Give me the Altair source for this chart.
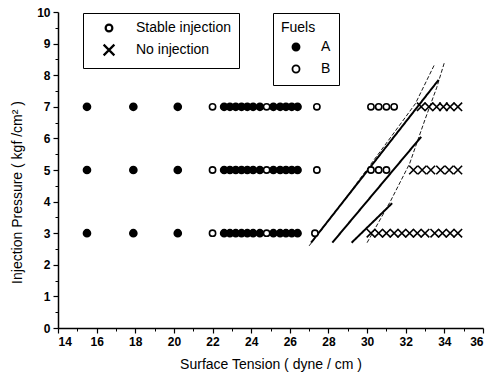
import altair as alt
import pandas as pd

# ---- data ----
pressures = [3, 5, 7]

# Fuel A, stable injection (filled circles), same at every pressure
fuel_a_x = [15.5, 17.9, 20.2, 22.6, 22.9, 23.2, 23.5, 23.8, 24.1, 24.45,
            25.15, 25.5, 25.8, 26.1, 26.4]

# Fuel B, stable injection (open circles)
fuel_b_stable_p3 = [22.0, 24.8, 27.3]
fuel_b_stable_p5 = [22.0, 24.8, 27.4, 30.2, 30.6, 31.0]
fuel_b_stable_p7 = [22.0, 24.8, 27.4, 30.2, 30.6, 31.0, 31.4]

# Fuel B, no injection (crosses)
fuel_b_none_p3 = [30.2, 30.6, 31.0, 31.4, 31.8, 32.2, 32.6, 33.0, 33.5, 33.9, 34.3, 34.7]
fuel_b_none_p5 = [32.4, 32.85, 33.3, 33.8, 34.25, 34.7]
fuel_b_none_p7 = [32.8, 33.2, 33.6, 33.95, 34.3, 34.7]

# boundary lines
line1_x = [27.1, 33.7]
line1_y = [2.7, 7.85]
line2_x = [28.2, 32.8]
line2_y = [2.7, 6.05]
line3_x = [29.2, 31.3]
line3_y = [2.7, 3.95]
dash1_x = [27.0, 29.0, 31.0, 32.5, 33.5]
dash1_y = [2.6, 4.2, 5.85, 7.1, 8.35]
dash2_x = [30.0, 31.2, 32.2, 33.0, 33.6, 34.0]
dash2_y = [2.7, 4.0, 5.2, 6.6, 7.6, 8.4]

x_major = [14, 16, 18, 20, 22, 24, 26, 28, 30, 32, 34, 36]
x_minor = [15, 17, 19, 21, 23, 25, 27, 29, 31, 33, 35]
y_major = [0, 1, 2, 3, 4, 5, 6, 7, 8, 9, 10]
y_minor = [0.5, 1.5, 2.5, 3.5, 4.5, 5.5, 6.5, 7.5, 8.5, 9.5]

# ---- build tables ----
recs = []
o = 0
for p in pressures:
    for xv in fuel_a_x:
        recs.append(dict(x=xv, y=p, fuel="A", status="Stable injection", kind="A", ord=o)); o += 1
for p, xs in zip(pressures, [fuel_b_stable_p3, fuel_b_stable_p5, fuel_b_stable_p7]):
    for xv in xs:
        recs.append(dict(x=xv, y=p, fuel="B", status="Stable injection", kind="Bs", ord=o)); o += 1
for p, xs in zip(pressures, [fuel_b_none_p3, fuel_b_none_p5, fuel_b_none_p7]):
    for xv in xs:
        recs.append(dict(x=xv, y=p, fuel="B", status="No injection", kind="Bn", ord=o)); o += 1
pts = pd.DataFrame(recs)

lrecs = []
for name, style, xs, ys in [("l1", "solid", line1_x, line1_y),
                            ("l2", "solid", line2_x, line2_y),
                            ("l3", "solid", line3_x, line3_y),
                            ("d1", "dashed", dash1_x, dash1_y),
                            ("d2", "dashed", dash2_x, dash2_y)]:
    for i, (xv, yv) in enumerate(zip(xs, ys)):
        lrecs.append(dict(x=xv, y=yv, id=name, style=style, i=i))
lines_df = pd.DataFrame(lrecs)

FONT = "Liberation Sans"
XPATH = "M-1.6,-1.6L1.6,1.6M1.6,-1.6L-1.6,1.6"

xscale = alt.Scale(domain=[14, 36], nice=False, zero=False)
yscale = alt.Scale(domain=[0, 10], nice=False)

x_axis = alt.Axis(values=x_major, tickSize=5, labelFont=FONT, labelFontSize=12,
                  labelFontWeight="bold", labelColor="black", domainColor="black",
                  tickColor="black", grid=False, labelPadding=3, domainWidth=1.5,
                  tickWidth=1.2, title="Surface Tension ( dyne / cm )",
                  titleFont=FONT, titleFontSize=14, titleFontWeight="normal",
                  titleColor="black", titlePadding=10, orient="bottom")
y_axis = alt.Axis(values=y_major, tickSize=5, labelFont=FONT, labelFontSize=12,
                  labelFontWeight="bold", labelColor="black", domainColor="black",
                  tickColor="black", grid=False, labelPadding=3, domainWidth=1.5,
                  tickWidth=1.2, title="Injection Pressure ( kgf /cm² )",
                  titleFont=FONT, titleFontSize=14, titleFontWeight="normal",
                  titleColor="black", titlePadding=12, titleY=180, orient="left")
x_axis_minor = alt.Axis(values=x_minor, tickSize=3, labels=False, domain=False,
                        grid=False, tickColor="black", title="", orient="bottom")
y_axis_minor = alt.Axis(values=y_minor, tickSize=3, labels=False, domain=False,
                        grid=False, tickColor="black", title="", orient="left")

points = alt.Chart(pts).mark_point(filled=True, stroke="black", strokeWidth=1.6,
                                   opacity=1).encode(
    x=alt.X("x:Q", scale=xscale, axis=x_axis),
    y=alt.Y("y:Q", scale=yscale, axis=y_axis),
    shape=alt.Shape("status:N",
                    scale=alt.Scale(domain=["Stable injection", "No injection"],
                                    range=["circle", XPATH]),
                    legend=alt.Legend(orient="none", legendX=25, legendY=1, title=None,
                                      strokeColor="black", padding=8, fillColor="white",
                                      labelFont=FONT, labelFontSize=14, labelColor="black",
                                      symbolSize=45, symbolStrokeWidth=2.2,
                                      symbolStrokeColor="black", symbolFillColor="white",
                                      symbolOffset=11, labelOffset=20, rowPadding=4)),
    fill=alt.Fill("fuel:N", scale=alt.Scale(domain=["A", "B"], range=["black", "white"]),
                  legend=alt.Legend(orient="none", legendX=215, legendY=1, title="Fuels",
                                    titleFont=FONT, titleFontSize=14, titleFontWeight="normal",
                                    titleColor="black", titlePadding=5,
                                    strokeColor="black", padding=8, fillColor="white",
                                    labelFont=FONT, labelFontSize=14, labelColor="black",
                                    symbolType="circle", symbolSize=50,
                                    symbolStrokeColor="black", symbolStrokeWidth=1.8,
                                    symbolOffset=8, labelOffset=18, rowPadding=6)),
    size=alt.Size("kind:N", scale=alt.Scale(domain=["A", "Bs", "Bn"], range=[50, 28, 60]),
                  legend=None),
    order=alt.Order("ord:Q"),
)

lines = alt.Chart(lines_df).mark_line(color="black").encode(
    x=alt.X("x:Q", scale=xscale, axis=x_axis_minor),
    y=alt.Y("y:Q", scale=yscale, axis=y_axis_minor),
    detail="id:N",
    order="i:Q",
    strokeDash=alt.StrokeDash("style:N",
                              scale=alt.Scale(domain=["solid", "dashed"], range=[[1, 0], [4, 2]]),
                              legend=None),
    strokeWidth=alt.StrokeWidth("style:N",
                                scale=alt.Scale(domain=["solid", "dashed"], range=[2.0, 0.9]),
                                legend=None),
)

chart = alt.layer(lines, points).resolve_axis(x="independent", y="independent").properties(
    width=425, height=316,
    autosize=alt.AutoSizeParams(type="none"),
    padding={"left": 58, "top": 12, "right": 7, "bottom": 53},
    background="white",
).configure_view(stroke="transparent")

chart.save("out.html", embed_options={"renderer": "svg", "actions": False})
